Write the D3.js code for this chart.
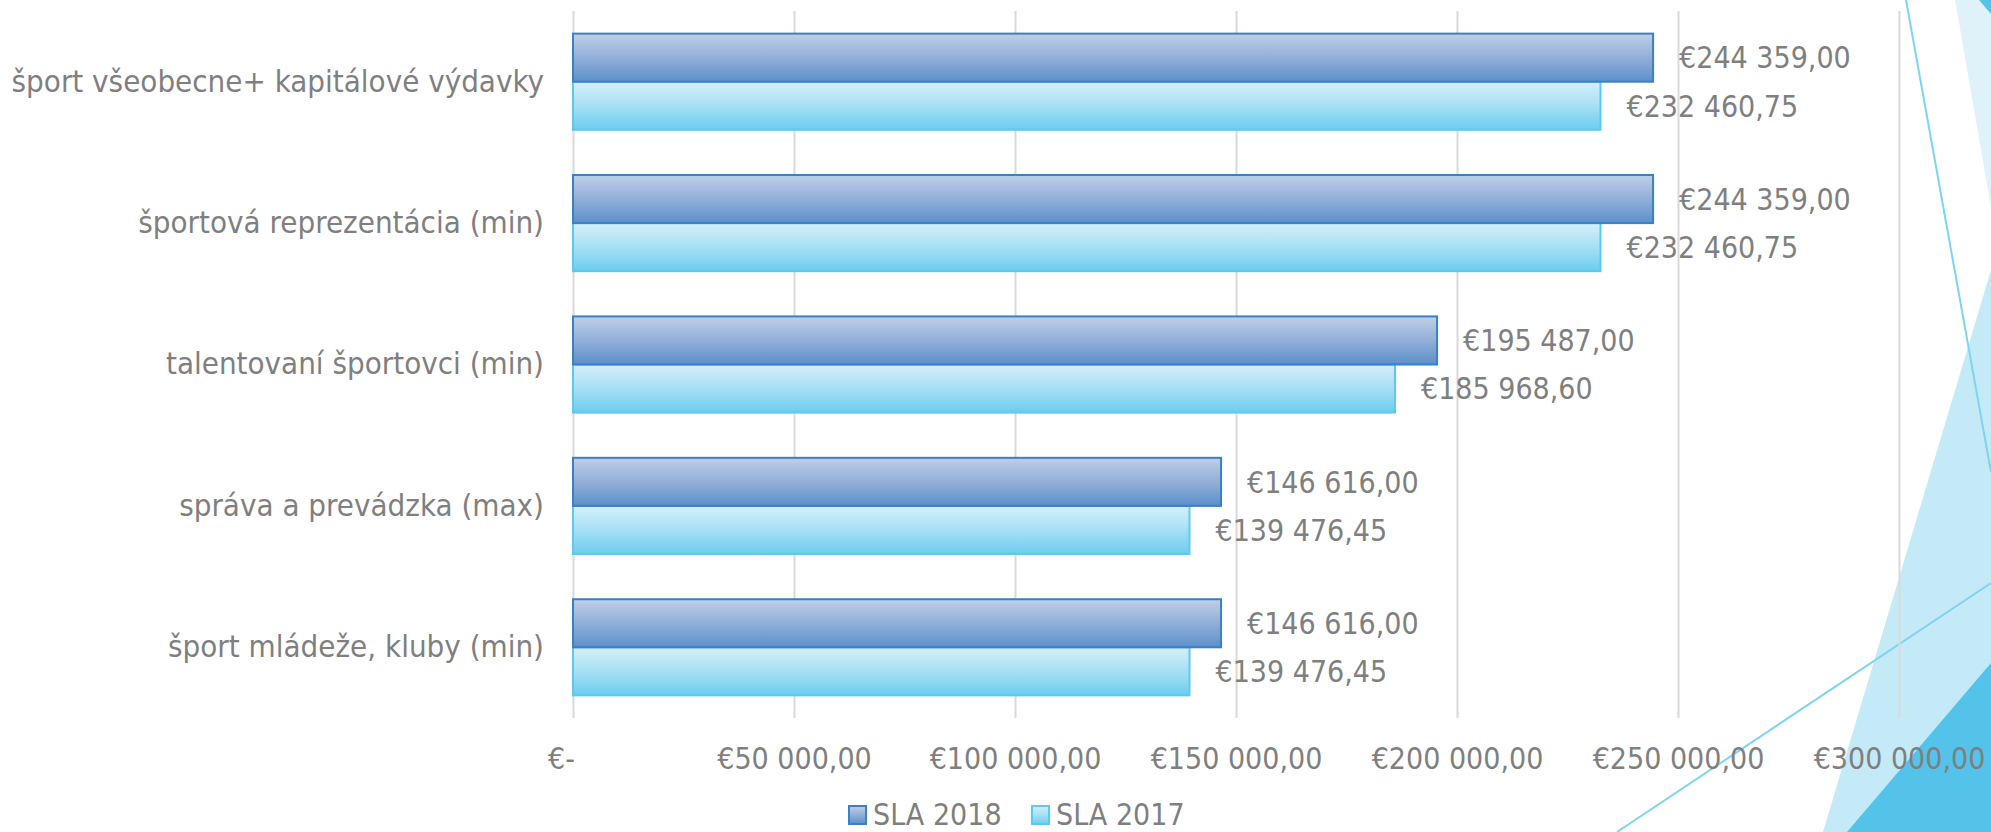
<!DOCTYPE html>
<html><head><meta charset="utf-8">
<script src="https://cdn.jsdelivr.net/npm/d3@7"></script>
<style>
html,body{margin:0;padding:0;background:#fff;overflow:hidden}
text{font-family:"DejaVu Sans Condensed","DejaVu Sans",sans-serif;font-stretch:condensed;fill:#7f7f7f;font-size:30px}
</style></head><body>
<svg id="chart" width="1991" height="832"></svg>
<script>
const categories = ["šport všeobecne+ kapitálové výdavky","športová reprezentácia (min)","talentovaní športovci (min)","správa a prevádzka (max)","šport mládeže, kluby (min)"];
const seriesNames = ["SLA 2018","SLA 2017"];
const sla2018 = [244359.00,244359.00,195487.00,146616.00,146616.00];
const sla2017 = [232460.75,232460.75,185968.60,139476.45,139476.45];
const xTicks = [0,50000,100000,150000,200000,250000,300000];

const svg = d3.select("#chart");
const plot = {left:573, right:1899, top:11, bottom:718};

function euro(v){
  if (v === 0) return "€-";
  const parts = v.toFixed(2).split(".");
  const intPart = parts[0].replace(/\B(?=(\d{3})+(?!\d))/g, " ");
  return "€" + intPart + "," + parts[1];
}

// gradients
const defs = svg.append("defs");
const grads = [
  {id:"g2018", stops:[["0%","#bfcfe7"],["50%","#92afd9"],["100%","#5b90cb"]]},
  {id:"g2017", stops:[["0%","#d6effa"],["50%","#a6e0f5"],["100%","#6bcdee"]]}
];
grads.forEach(g=>{
  const lg = defs.append("linearGradient").attr("id",g.id).attr("x1",0).attr("y1",0).attr("x2",0).attr("y2",1);
  g.stops.forEach(s=>lg.append("stop").attr("offset",s[0]).attr("stop-color",s[1]));
});
const fills = {"SLA 2018":"url(#g2018)","SLA 2017":"url(#g2017)"};
const strokes = {"SLA 2018":"#3b7fc4","SLA 2017":"#5ec8ee"};

// decorative background (theme shapes)
const deco = svg.append("g");
const polys = [
  {pts:[[1955,0],[1991,0],[1991,207]], fill:"#dff2fa"},
  {pts:[[1979,0],[1991,0],[1991,14]], fill:"#53c3ea"},
  {pts:[[1991,270],[1823,832],[1991,832]], fill:"#c5eaf7"},
  {pts:[[1847,832],[1991,663],[1991,832]], fill:"#53c3ea"}
];
polys.forEach(p=>deco.append("polygon").attr("points",p.pts.map(d=>d.join(",")).join(" ")).attr("fill",p.fill));
const lines = [[[1906,0],[1991,472]],[[1617,832],[1991,583]]];
lines.forEach(l=>deco.append("line").attr("x1",l[0][0]).attr("y1",l[0][1]).attr("x2",l[1][0]).attr("y2",l[1][1]).attr("stroke","#7fd4f1").attr("stroke-width",2));

// scales
const x = d3.scaleLinear().domain([0,300000]).range([plot.left, plot.right]);
const y = d3.scaleBand().domain(categories).range([plot.top, plot.bottom]).paddingInner(0.32).paddingOuter(0.16);
const sub = d3.scaleBand().domain(seriesNames).range([0, y.bandwidth()]);

// gridlines
const grid = svg.append("g").attr("transform",`translate(0,${plot.bottom})`)
  .call(d3.axisBottom(x).tickValues(xTicks).tickSize(-(plot.bottom-plot.top)).tickFormat(""));
grid.select(".domain").remove();
grid.selectAll(".tick line").attr("stroke","#d9d9d9").attr("stroke-width",2);

// x axis labels
const xAxis = svg.append("g").attr("transform",`translate(0,${plot.bottom})`)
  .call(d3.axisBottom(x).tickValues(xTicks).tickSize(0).tickPadding(30).tickFormat(euro));
xAxis.select(".domain").remove();
xAxis.selectAll(".tick text").attr("fill","#7f7f7f").style("font-size","30px")
  .attr("dx", d => d === 0 ? -12 : 0);

// y axis labels
const yAxis = svg.append("g").attr("transform",`translate(${plot.left},0)`)
  .call(d3.axisLeft(y).tickSize(0).tickPadding(29));
yAxis.select(".domain").remove();
yAxis.selectAll(".tick text").attr("fill","#7f7f7f").style("font-size","31px");

// bars
const rows = categories.map((c,i)=>({cat:c, vals:[{s:"SLA 2018", v:sla2018[i]},{s:"SLA 2017", v:sla2017[i]}]}));
const groups = svg.append("g").selectAll("g").data(rows).join("g")
  .attr("transform", d=>`translate(0,${y(d.cat)})`);
groups.selectAll("rect").data(d=>d.vals.slice().reverse()).join("rect")
  .attr("x", x(0))
  .attr("y", d=>sub(d.s))
  .attr("width", d=>x(d.v)-x(0))
  .attr("height", sub.bandwidth())
  .attr("fill", d=>fills[d.s])
  .attr("stroke", d=>strokes[d.s])
  .attr("stroke-width", 2);
groups.selectAll("text").data(d=>d.vals).join("text")
  .attr("x", d=>x(d.v)+26)
  .attr("y", d=>sub(d.s)+sub.bandwidth()/2)
  .attr("dy","0.36em")
  .text(d=>euro(d.v));

// legend
const legend = svg.append("g").attr("transform","translate(849,814)");
const items = legend.selectAll("g").data(seriesNames).join("g")
  .attr("transform",(d,i)=>`translate(${i*183},0)`);
items.append("rect").attr("x",0).attr("y",-8).attr("width",17).attr("height",18)
  .attr("fill",d=>fills[d]).attr("stroke",d=>strokes[d]).attr("stroke-width",2);
items.append("text").attr("x",24).attr("y",0).attr("dy","0.36em").text(d=>d);
</script>
</body></html>
